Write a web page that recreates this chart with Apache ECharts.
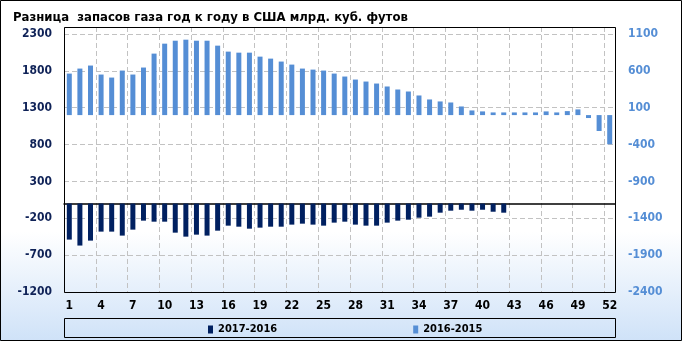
<!DOCTYPE html>
<html>
<head>
<meta charset="utf-8">
<script src="https://cdn.jsdelivr.net/npm/echarts@6/dist/echarts.min.js"></script>
<style>
html,body{margin:0;padding:0;background:#fff;}
#c{width:682px;height:341px;background:linear-gradient(to bottom,#ffffff 0%,#ffffff 68%,#cfe2f8 100%);}
</style>
</head>
<body>
<div id="c"></div>
<script>
const categories = Array.from({length: 52}, (_, i) => String(i + 1));
const series2017_2016 = [-489, -570, -503, -381, -381, -435, -354, -232, -246, -246, -395, -449, -422, -435, -368, -300, -314, -341, -327, -314, -314, -286, -273, -286, -300, -259, -246, -286, -300, -300, -259, -232, -219, -192, -178, -124, -97, -84, -97, -84, -111, -124];
const series2016_2015 = [563, 631, 672, 550, 509, 604, 550, 645, 834, 969, 1009, 1023, 1009, 1009, 942, 861, 847, 847, 793, 766, 726, 685, 631, 617, 604, 563, 523, 482, 455, 428, 388, 347, 320, 266, 212, 185, 171, 117, 63, 50, 36, 36, 36, 36, 36, 50, 36, 54, 77, -40, -216, -396];
const leftTicks = [-1200, -700, -200, 300, 800, 1300, 1800, 2300];
const rightTicks = [-2400, -1900, -1400, -900, -400, 100, 600, 1100];
const seriesNames = ['2017-2016', '2016-2015'];
const titleText = 'Разница  запасов газа год к году в США млрд. куб. футов';

const FONT = '"DejaVu Sans Condensed", "DejaVu Sans", sans-serif';
const chart = echarts.init(document.getElementById('c'));
const step = leftTicks[1] - leftTicks[0];
const plain = v => String(v);
const GRIDC = '#c2c2c2';
chart.setOption({
  animation: false,
  backgroundColor: 'transparent',
  title: {
    text: titleText, left: 8, top: 6,
    textStyle: {fontFamily: FONT, fontSize: 13, fontWeight: 'bold', color: '#000'}
  },
  legend: {
    data: seriesNames, left: 203, top: 319, itemWidth: 5, itemHeight: 8, itemGap: 136, icon: 'rect',
    textStyle: {fontFamily: FONT, fontSize: 11, fontWeight: 'bold', color: '#000'}
  },
  graphic: [
    {type: 'rect', z: 100, shape: {x: 0.5, y: 0.5, width: 681, height: 340}, style: {fill: 'transparent', stroke: '#000', lineWidth: 1}, silent: true},
    {type: 'rect', z: 100, shape: {x: 64.5, y: 27.5, width: 551, height: 265}, style: {fill: 'transparent', stroke: '#000', lineWidth: 1}, silent: true},
    {type: 'rect', z: 100, shape: {x: 64.5, y: 318.5, width: 551, height: 19}, style: {fill: 'transparent', stroke: '#000', lineWidth: 1}, silent: true}
  ],
  grid: {left: 64, top: 27, width: 551, height: 265},
  xAxis: {
    type: 'category', data: categories, boundaryGap: true,
    axisLine: {show: true, onZero: true, onZeroAxisIndex: 0, lineStyle: {color: '#000', width: 1.5}},
    axisTick: {show: false},
    axisLabel: {interval: 2, margin: 8, fontFamily: FONT, fontSize: 12, fontWeight: 'bold', color: '#000'},
    splitLine: {show: true, interval: 2, lineStyle: {color: GRIDC, type: [5, 3], width: 1}}
  },
  yAxis: [
    {
      type: 'value', min: leftTicks[0], max: leftTicks[leftTicks.length - 1] + 95, interval: step,
      axisLine: {show: false}, axisTick: {show: false},
      axisLabel: {showMaxLabel: false, margin: 12, formatter: plain, fontFamily: FONT, fontSize: 12, fontWeight: 'bold', color: '#0f2257'},
      splitLine: {show: true, lineStyle: {color: GRIDC, type: [5, 3], width: 1}}
    },
    {
      type: 'value', min: rightTicks[0], max: rightTicks[rightTicks.length - 1] + 95, interval: step,
      axisLine: {show: false}, axisTick: {show: false},
      axisLabel: {showMaxLabel: false, margin: 13, formatter: plain, fontFamily: FONT, fontSize: 12, fontWeight: 'bold', color: '#558ed5'},
      splitLine: {show: false}
    }
  ],
  series: [
    {name: seriesNames[0], type: 'bar', yAxisIndex: 0, data: series2017_2016, barWidth: 5, barGap: '-100%', itemStyle: {color: '#002060'}},
    {name: seriesNames[1], type: 'bar', yAxisIndex: 1, data: series2016_2015, barWidth: 5, barGap: '-100%', itemStyle: {color: '#558ed5'}}
  ]
});
</script>
</body>
</html>
